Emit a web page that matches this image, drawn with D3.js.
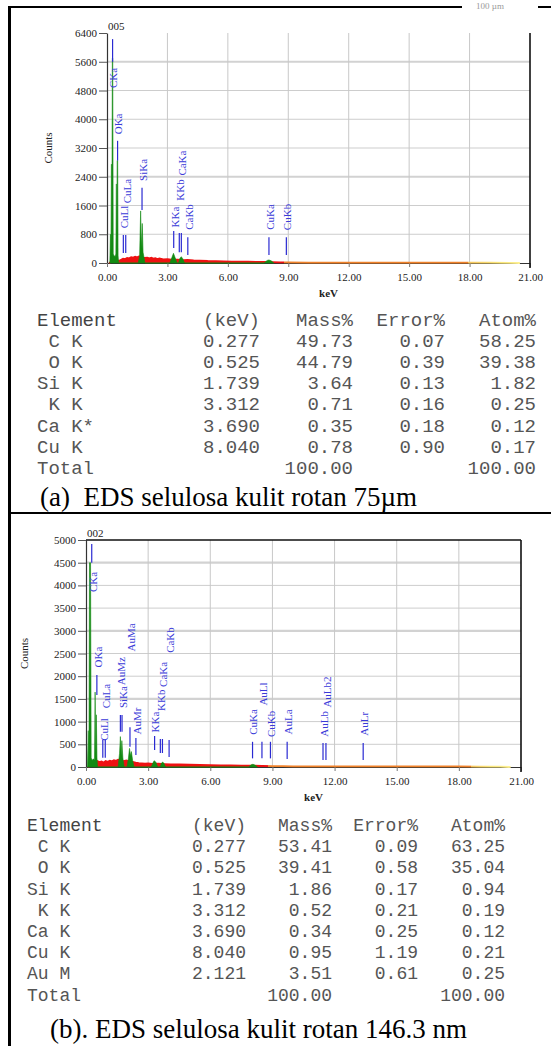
<!DOCTYPE html>
<html><head><meta charset="utf-8">
<script src="https://cdn.jsdelivr.net/npm/d3@7/dist/d3.min.js"></script>
<style>
html,body{margin:0;padding:0;background:#fff;}
svg{display:block;}
</style></head>
<body>
<svg id="chart" width="551" height="1046"></svg>
<script>
// ---------------- DATA ----------------
const xTicks = [0, 3, 6, 9, 12, 15, 18, 21];
const yTicksA = [0, 800, 1600, 2400, 3200, 4000, 4800, 5600, 6400];
const yTicksB = [0, 500, 1000, 1500, 2000, 2500, 3000, 3500, 4000, 4500, 5000];

// (a) spectrum: continuum (keV, counts)
const bgKeV_a = [0.10,0.30,0.45,0.60,0.70,0.80,0.90,1.00,1.10,1.20,1.30,1.40,1.50,1.60,1.70,1.85,2.00,2.10,2.20,2.30,2.40,2.50,2.60,2.80,3.00,3.20,3.50,3.80,4.00,4.30,4.60,5.00,5.40,5.80,6.20,6.60,7.00,7.40,7.80,8.20,8.60,9.00,10.0,12.0,14.0,16.0,18.0,19.0,20.0,20.5];
const bgCounts_a = [0,60,80,60,90,120,110,140,130,160,150,175,160,185,150,140,150,130,145,120,135,110,125,100,105,90,95,80,85,70,65,55,50,45,40,38,35,30,28,25,20,15,12,10,10,10,10,8,6,0];
// (a) characteristic peaks (keV, counts)
const peakKeV_a = [0.14,0.17,0.19,0.22,0.24,0.265,0.285,0.31,0.35,0.40,0.44,0.465,0.48,0.505,0.53,0.55,0.58,
  1.55,1.62,1.67,1.71,1.75,1.79,1.84,1.88, 3.12,3.22,3.30,3.38,3.48, 3.55,3.62,3.69,3.76,3.85, 7.80,7.95,8.04,8.15,8.28];
const peakCounts_a = [0,800,120,2750,300,5700,5700,250,200,180,250,2200,400,2850,2850,200,0,
  0,200,1450,400,1100,300,150,0, 0,150,270,150,0, 0,130,175,120,0, 0,70,85,60,0];
// (a) line markers
const markerNamesA = ["CKa","OKa","CuLl","CuLa","SiKa","KKa","KKb","CaKa","CaKb","CuKa","CuKb"];
const markerKeVA   = [0.277,0.525,0.811,0.930,1.739,3.312,3.589,3.690,4.012,8.040,8.904];
const markerTopA   = [6230,3400,780,780,2095,890,835,835,720,720,720];
const markerBaseA  = [5600,2850,280,280,1475,420,300,300,220,220,220];
const markerLabelA = [5150,3870,1280,2000,2590,1280,2030,2780,1280,1280,1280];

// (b) spectrum
const bgKeV_b = [0.10,0.30,0.45,0.55,0.65,0.75,0.85,0.95,1.05,1.15,1.25,1.35,1.45,1.55,1.65,1.80,1.95,2.10,2.25,2.40,2.55,2.70,2.85,3.00,3.20,3.50,3.80,4.10,4.50,5.00,5.50,6.00,6.50,7.00,7.50,8.00,8.50,9.00,9.50,10.0,12.0,14.0,16.0,18.0,19.0,20.0,20.5];
const bgCounts_b = [0,80,100,130,110,120,100,130,115,140,125,150,135,160,150,130,145,120,110,95,85,80,75,78,70,72,65,60,55,50,45,40,38,35,30,28,25,20,18,15,12,12,12,12,10,8,0];
const peakKeV_b = [0.07,0.11,0.14,0.17,0.22,0.25,0.30,0.36,0.41,0.44,0.47,0.50,0.53,0.56,
  1.55,1.62,1.66,1.70,1.73,1.78,1.84, 1.98,2.05,2.10,2.15,2.19,2.25,2.32,
  3.15,3.25,3.30,3.38,3.46, 3.58,3.65,3.70,3.76,3.84, 7.85,7.98,8.06,8.15,8.28];
const peakCounts_b = [0,800,100,4500,4500,200,150,180,150,1650,300,1150,200,0,
  0,300,670,250,580,200,0, 0,200,410,250,340,150,0,
  0,110,140,100,0, 0,90,110,80,0, 0,50,60,45,0];
const markerNamesB = ["CKa","OKa","CuLl","CuLa","SiKa","AuMz","AuMa","AuMr","KKa","KKb","CaKa","CaKb","CuKa","AuLl","CuKb","AuLa","AuLb","AuLb2","AuLr"];
const markerKeVB   = [0.277,0.525,0.811,0.930,1.739,1.660,2.123,2.409,3.312,3.589,3.690,4.012,8.040,8.494,8.904,9.711,11.442,11.584,13.381];
const markerTopB   = [4910,2026,595,595,1145,1145,874,639,683,617,617,595,555,555,555,555,528,528,528];
const markerBaseB  = [4500,1586,205,205,778,778,447,264,374,308,308,220,190,190,190,175,154,154,154];
const markerLabelB = [4075,2423,826,1564,1540,2110,2852,1013,991,1470,2040,2797,991,1608,950,991,950,1652,950];

// tables
const tableHeader = ["Element","(keV)","Mass%","Error%","Atom%"];
const elementsA = [" C K"," O K","Si K"," K K","Ca K*","Cu K"];
const keVA   = [0.277,0.525,1.739,3.312,3.690,8.040];
const massA  = [49.73,44.79,3.64,0.71,0.35,0.78];
const errorA = [0.07,0.39,0.13,0.16,0.18,0.90];
const atomA  = [58.25,39.38,1.82,0.25,0.12,0.17];
const totalsA = [100.00, 100.00];

const elementsB = [" C K"," O K","Si K"," K K","Ca K","Cu K","Au M"];
const keVB   = [0.277,0.525,1.739,3.312,3.690,8.040,2.121];
const massB  = [53.41,39.41,1.86,0.52,0.34,0.95,3.51];
const errorB = [0.09,0.58,0.17,0.21,0.25,1.19,0.61];
const atomB  = [63.25,35.04,0.94,0.19,0.12,0.21,0.25];
const totalsB = [100.00, 100.00];

const captionA = "(a)  EDS selulosa kulit rotan 75µm";
const captionB = "(b). EDS selulosa kulit rotan 146.3 nm";

// ---------------- DRAWING ----------------
const svg = d3.select("#chart");
const serif = "'Liberation Serif','Times New Roman',serif";
const mono = "'Liberation Mono','Courier New',monospace";
const defs = svg.append("defs");

function zip(a, b) { return a.map((v, i) => [v, b[i]]); }

function panel(o) {
  const x = d3.scaleLinear().domain([0, 21]).range([o.x0, o.x1]);
  const y = d3.scaleLinear().domain([0, o.yMax]).range([o.yBot, o.yTop]);
  const g = svg.append("g");

  // horizontal grid
  g.selectAll(null).data(o.yTicks.filter(v => v > 0 && v < o.yMax)).join("line")
    .attr("x1", o.x0).attr("x2", o.x1)
    .attr("y1", d => y(d)).attr("y2", d => y(d))
    .attr("stroke", d => o.thick.includes(d) ? "#d2d2d2" : "#cdcdcd")
    .attr("stroke-width", d => o.thick.includes(d) ? 2.2 : 1);
  // vertical grid
  g.selectAll(null).data(xTicks.filter(v => v > 0 && v < 21)).join("line")
    .attr("x1", d => x(d)).attr("x2", d => x(d))
    .attr("y1", o.yTop).attr("y2", o.yBot)
    .attr("stroke", "#c8c8c8").attr("stroke-width", 1);

  // axes
  const ya = g.append("g").attr("transform", `translate(${o.x0},0)`)
    .call(d3.axisLeft(y).tickValues(o.yTicks).tickSize(8).tickSizeOuter(0).tickPadding(2).tickFormat(d3.format("d")));
  const xa = g.append("g").attr("transform", `translate(0,${o.yBot})`)
    .call(d3.axisBottom(x).tickValues(xTicks).tickSize(4).tickSizeOuter(0).tickPadding(6).tickFormat(d3.format(".2f")));
  [ya, xa].forEach(a => {
    a.select(".domain").attr("stroke", "#333").attr("stroke-width", 1.2);
    a.selectAll(".tick line").attr("stroke", "#555");
    a.selectAll("text").attr("font-family", serif).attr("font-size", 11).attr("fill", "#222");
  });
  xa.selectAll(".tick line").attr("stroke", "#777");

  // frame
  if (o.frameTop) {
    g.append("line").attr("x1", o.x0).attr("x2", o.x1).attr("y1", o.yTop).attr("y2", o.yTop)
      .attr("stroke", "#111").attr("stroke-width", 1.5);
  }
  g.append("line").attr("x1", o.x1).attr("x2", o.x1).attr("y1", o.yTop).attr("y2", o.yBot + 5)
    .attr("stroke", "#111").attr("stroke-width", 1.6);

  // gradient for continuum colouring by energy
  const grad = defs.append("linearGradient").attr("id", o.id + "grad")
    .attr("gradientUnits", "userSpaceOnUse")
    .attr("x1", x(0)).attr("x2", x(21)).attr("y1", 0).attr("y2", 0);
  const stops = [[0, "#ee1111"], [o.redEnd, "#ee1111"], [o.redEnd, "#f0822a"], [o.orangeEnd, "#f0822a"],
                 [o.orangeEnd, "#f6c45a"], [19.5, "#fbe77a"], [21, "#fff6a0"]];
  grad.selectAll("stop").data(stops).join("stop")
    .attr("offset", d => d[0] / 21).attr("stop-color", d => d[1]);

  const bg = zip(o.bgKeV, o.bgCounts);
  g.append("path").datum(bg)
    .attr("d", d3.area().x(d => x(d[0])).y0(y(0)).y1(d => y(d[1])))
    .attr("fill", `url(#${o.id}grad)`);
  g.append("path").datum(bg)
    .attr("d", d3.line().x(d => x(d[0])).y(d => y(d[1])))
    .attr("fill", "none").attr("stroke", `url(#${o.id}grad)`).attr("stroke-width", 1.8);

  const pk = zip(o.peakKeV, o.peakCounts);
  g.append("path").datum(pk)
    .attr("d", d3.area().x(d => x(d[0])).y0(y(0)).y1(d => y(d[1])))
    .attr("fill", "#128a12").attr("stroke", "#128a12").attr("stroke-width", 0.6);

  // markers
  const mk = o.mNames.map((n, i) => ({ n, k: o.mKeV[i], t: o.mTop[i], b: o.mBase[i], l: o.mLabel[i] }));
  g.selectAll(null).data(mk).join("line")
    .attr("x1", d => x(d.k)).attr("x2", d => x(d.k))
    .attr("y1", d => y(d.t)).attr("y2", d => y(d.b))
    .attr("stroke", "#2a2ad2").attr("stroke-width", 1.2);
  g.selectAll(null).data(mk).join("text")
    .attr("transform", d => `translate(${x(d.k) + 1},${y(d.l)}) rotate(-90)`)
    .attr("text-anchor", "middle").attr("dy", "0.35em")
    .attr("font-family", serif).attr("font-size", 11).attr("fill", "#3a3ad8")
    .text(d => d.n);

  // labels
  g.append("text").attr("transform", `translate(${o.countsX},${(o.yTop + o.yBot) / 2}) rotate(-90)`)
    .attr("text-anchor", "middle").attr("dy", "0.35em")
    .attr("font-family", serif).attr("font-size", 11).attr("fill", "#222").text("Counts");
  g.append("text").attr("x", (o.x0 + o.x1) / 2 + 10).attr("y", o.yBot + 34)
    .attr("text-anchor", "middle").attr("font-family", serif).attr("font-size", 11)
    .attr("font-weight", "bold").attr("fill", "#222").text("keV");
  g.append("text").attr("x", o.x0 + 1).attr("y", o.yTop - 3)
    .attr("font-family", serif).attr("font-size", 11).attr("fill", "#222").text(o.sample);
}

panel({ id: "a", x0: 107, x1: 530, yTop: 33, yBot: 263, yMax: 6400, yTicks: yTicksA, thick: [5600, 2400],
  bgKeV: bgKeV_a, bgCounts: bgCounts_a, peakKeV: peakKeV_a, peakCounts: peakCounts_a,
  mNames: markerNamesA, mKeV: markerKeVA, mTop: markerTopA, mBase: markerBaseA, mLabel: markerLabelA,
  redEnd: 8.8, orangeEnd: 17.9, countsX: 48, sample: "005", frameTop: false });

panel({ id: "b", x0: 86, x1: 521, yTop: 540, yBot: 767, yMax: 5000, yTicks: yTicksB, thick: [4500, 3000, 1500],
  bgKeV: bgKeV_b, bgCounts: bgCounts_b, peakKeV: peakKeV_b, peakCounts: peakCounts_b,
  mNames: markerNamesB, mKeV: markerKeVB, mTop: markerTopB, mBase: markerBaseB, mLabel: markerLabelB,
  redEnd: 8.8, orangeEnd: 18.6, countsX: 24, sample: "002", frameTop: true });

// tables
function table(o) {
  const g = svg.append("g").attr("font-family", mono).attr("font-size", o.size).attr("fill", "#555");
  g.append("text").attr("x", o.left).attr("y", o.base).attr("fill", "#444").text(tableHeader[0]);
  tableHeader.slice(1).forEach((h, i) =>
    g.append("text").attr("x", o.rights[i]).attr("y", o.base).attr("text-anchor", "end").text(h));
  o.elements.forEach((el, r) => {
    const yy = o.base + (r + 1) * o.step;
    g.append("text").attr("x", o.left).attr("y", yy).style("white-space", "pre").text(el);
    const vals = [o.kev[r].toFixed(3), o.mass[r].toFixed(2), o.err[r].toFixed(2), o.atom[r].toFixed(2)];
    vals.forEach((v, i) => g.append("text").attr("x", o.rights[i]).attr("y", yy).attr("text-anchor", "end").text(v));
  });
  const yt = o.base + (o.elements.length + 1) * o.step;
  g.append("text").attr("x", o.left).attr("y", yt).text("Total");
  g.append("text").attr("x", o.rights[1]).attr("y", yt).attr("text-anchor", "end").text(o.totals[0].toFixed(2));
  g.append("text").attr("x", o.rights[3]).attr("y", yt).attr("text-anchor", "end").text(o.totals[1].toFixed(2));
}
table({ left: 37, rights: [260, 353, 445, 536], base: 326, step: 21.1, size: 19,
  elements: elementsA, kev: keVA, mass: massA, err: errorA, atom: atomA, totals: totalsA });
table({ left: 27, rights: [246, 332, 418, 505], base: 831, step: 21.2, size: 18,
  elements: elementsB, kev: keVB, mass: massB, err: errorB, atom: atomB, totals: totalsB });

// captions
svg.append("text").attr("x", 40).attr("y", 506).style("white-space", "pre")
  .attr("font-family", serif).attr("font-size", 27).attr("fill", "#000").text(captionA);
svg.append("text").attr("x", 50).attr("y", 1038)
  .attr("font-family", serif).attr("font-size", 27).attr("fill", "#000").text(captionB);

// panel borders
svg.append("line").attr("x1", 9.5).attr("x2", 9.5).attr("y1", 6).attr("y2", 1046).attr("stroke", "#000").attr("stroke-width", 3);
svg.append("line").attr("x1", 8).attr("x2", 462).attr("y1", 7).attr("y2", 7).attr("stroke", "#000").attr("stroke-width", 2);
svg.append("line").attr("x1", 538).attr("x2", 551).attr("y1", 7).attr("y2", 7).attr("stroke", "#000").attr("stroke-width", 2);
svg.append("line").attr("x1", 8).attr("x2", 551).attr("y1", 513).attr("y2", 513).attr("stroke", "#000").attr("stroke-width", 2);
// small scale-bar text fragment at top right
svg.append("text").attr("x", 476).attr("y", 9)
  .attr("font-family", serif).attr("font-size", 9).attr("fill", "#999").text("100 µm");
</script>
</body></html>
